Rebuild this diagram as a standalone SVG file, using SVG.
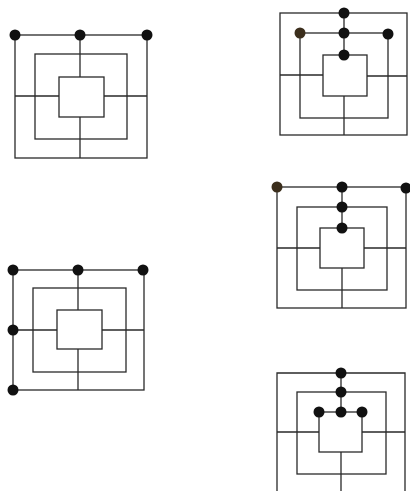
<svg xmlns="http://www.w3.org/2000/svg" width="410" height="491" viewBox="0 0 410 491">
<style>
.l{fill:none;stroke:#2a2a2a;stroke-width:1.3}
.d{fill:#111}
.b{fill:#3b2e1c}
</style>
<rect width="410" height="491" fill="#fff"/>
<g id="board1">
<g class="l">
<rect x="15" y="35" width="132" height="123"/>
<rect x="35" y="54" width="92" height="85"/>
<rect x="59" y="77" width="45" height="40"/>
<path d="M80 35V77M80 117V158M15 96H59M104 96H147"/>
</g>
<circle class="d" cx="15" cy="35" r="5.5"/>
<circle class="d" cx="80" cy="35" r="5.5"/>
<circle class="d" cx="147" cy="35" r="5.5"/>
</g>
<g id="board2">
<g class="l">
<rect x="280" y="13" width="127" height="122"/>
<rect x="300" y="33" width="88" height="85"/>
<rect x="323" y="55" width="44" height="41"/>
<path d="M344 13V55M344 96V135M280 75H323M367 76H407"/>
</g>
<circle class="d" cx="344" cy="13" r="5.5"/>
<circle class="d" cx="344" cy="33" r="5.5"/>
<circle class="d" cx="344" cy="55" r="5.5"/>
<circle class="b" cx="300" cy="33" r="5.5"/>
<circle class="d" cx="388" cy="34" r="5.5"/>
</g>
<g id="board3">
<g class="l">
<rect x="277" y="187" width="129" height="121"/>
<rect x="297" y="207" width="90" height="83"/>
<rect x="320" y="228" width="44" height="40"/>
<path d="M342 187V228M342 268V308M277 248H320M364 248H406"/>
</g>
<circle class="b" cx="277" cy="187" r="5.5"/>
<circle class="d" cx="342" cy="187" r="5.5"/>
<circle class="d" cx="406" cy="188" r="5.5"/>
<circle class="d" cx="342" cy="207" r="5.5"/>
<circle class="d" cx="342" cy="228" r="5.5"/>
</g>
<g id="board4">
<g class="l">
<rect x="13" y="270" width="131" height="120"/>
<rect x="33" y="288" width="93" height="84"/>
<rect x="57" y="310" width="45" height="39"/>
<path d="M78 270V310M78 349V390M13 330H57M102 330H144"/>
</g>
<circle class="d" cx="13" cy="270" r="5.5"/>
<circle class="d" cx="78" cy="270" r="5.5"/>
<circle class="d" cx="143" cy="270" r="5.5"/>
<circle class="d" cx="13" cy="330" r="5.5"/>
<circle class="d" cx="13" cy="390" r="5.5"/>
</g>
<g id="board5">
<g class="l">
<path d="M277 495V373H405V495"/>
<rect x="297" y="392" width="89" height="82"/>
<rect x="319" y="412" width="43" height="40"/>
<path d="M341 373V412M341 452V495M277 432H319M362 432H405"/>
</g>
<circle class="d" cx="341" cy="373" r="5.5"/>
<circle class="d" cx="341" cy="392" r="5.5"/>
<circle class="d" cx="341" cy="412" r="5.5"/>
<circle class="d" cx="319" cy="412" r="5.5"/>
<circle class="d" cx="362" cy="412" r="5.5"/>
</g>
</svg>
